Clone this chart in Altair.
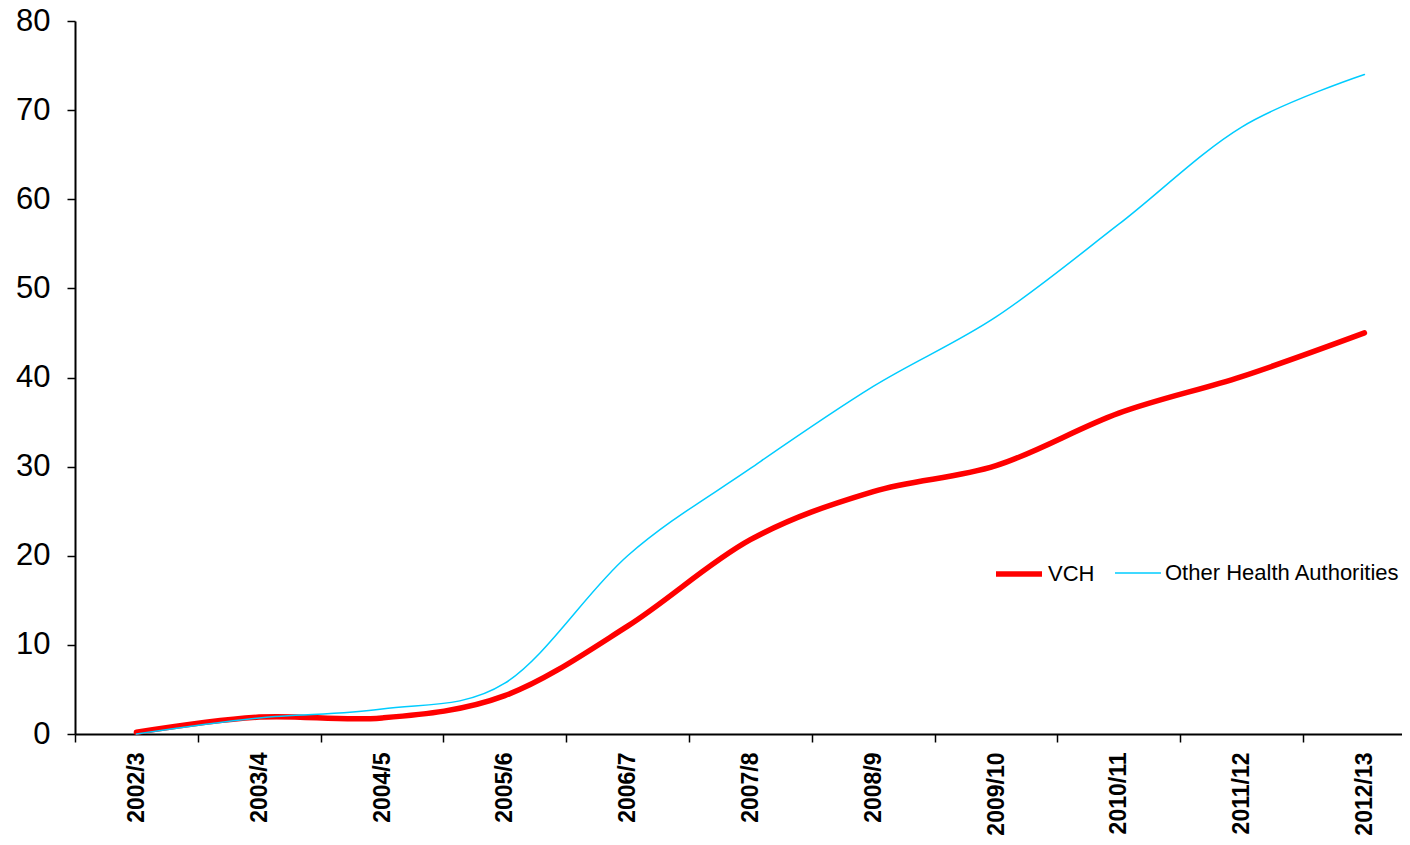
import altair as alt
import pandas as pd

years = ["2002/3", "2003/4", "2004/5", "2005/6", "2006/7", "2007/8",
         "2008/9", "2009/10", "2010/11", "2011/12", "2012/13"]
vch = [0.2, 1.9, 1.8, 4.3, 12.1, 21.8, 27.2, 30.1, 36.0, 40.1, 45.0]
other = [0.0, 1.8, 2.8, 5.7, 20.0, 29.8, 39.0, 46.8, 57.2, 68.1, 74.0]
series = ["VCH", "Other Health Authorities"]

rows = []
for i, y in enumerate(years):
    rows.append({"idx": i, "year": y, "series": series[0], "value": vch[i]})
    rows.append({"idx": i, "year": y, "series": series[1], "value": other[i]})
df = pd.DataFrame(rows)

FONT = "Liberation Sans"
label_arr = "[" + ",".join("'" + y + "'" for y in years) + "]"

x_axis = alt.Axis(
    values=[i - 0.5 for i in range(len(years))],
    labelExpr=label_arr + "[round(datum.value + 0.5)]",
    labelOffset=61.4,
    labelAngle=-90,
    labelAlign="right",
    labelBaseline="middle",
    labelFont=FONT,
    labelFontWeight="bold",
    labelFontSize=23,
    labelColor="black",
    labelPadding=10,
    labelOverlap=False,
    labelFlush=False,
    tickSize=8,
    tickColor="black",
    tickWidth=1.5,
    domainColor="black",
    domainWidth=2,
    grid=False,
    title=None,
)

y_axis = alt.Axis(
    values=list(range(0, 81, 10)),
    labelFont=FONT,
    labelFontSize=31,
    labelColor="black",
    labelPadding=17,
    tickSize=8,
    tickColor="black",
    tickWidth=1.5,
    domainColor="black",
    domainWidth=2,
    grid=False,
    title=None,
)

legend = alt.Legend(title=None, orient="none", legendX=918, legendY=527,
                    direction="horizontal", symbolType="stroke",
                    symbolSize=2116, labelFont=FONT, labelFontSize=22,
                    labelColor="black", labelOffset=3, columnPadding=17,
                    labelLimit=0)

chart = alt.Chart(df).mark_line(interpolate="cardinal", strokeCap="round").encode(
    x=alt.X("idx:Q", scale=alt.Scale(domain=[-0.5, 10.306], nice=False, zero=False), axis=x_axis),
    y=alt.Y("value:Q", scale=alt.Scale(domain=[0, 80], nice=False), axis=y_axis),
    color=alt.Color("series:N", scale=alt.Scale(domain=series, range=["#FF0000", "#00CCFF"]),
                    legend=legend),
    strokeWidth=alt.StrokeWidth("series:N", scale=alt.Scale(domain=series, range=[5.5, 1.5]),
                                legend=legend),
    detail="series:N",
).properties(
    width=1327,
    height=713,
    autosize=alt.AutoSizeParams(type="none"),
    padding={"left": 67, "top": 13, "right": 0, "bottom": 103},
).configure_view(stroke=None)

chart.save("out.html", embed_options={"renderer": "svg", "actions": False})
